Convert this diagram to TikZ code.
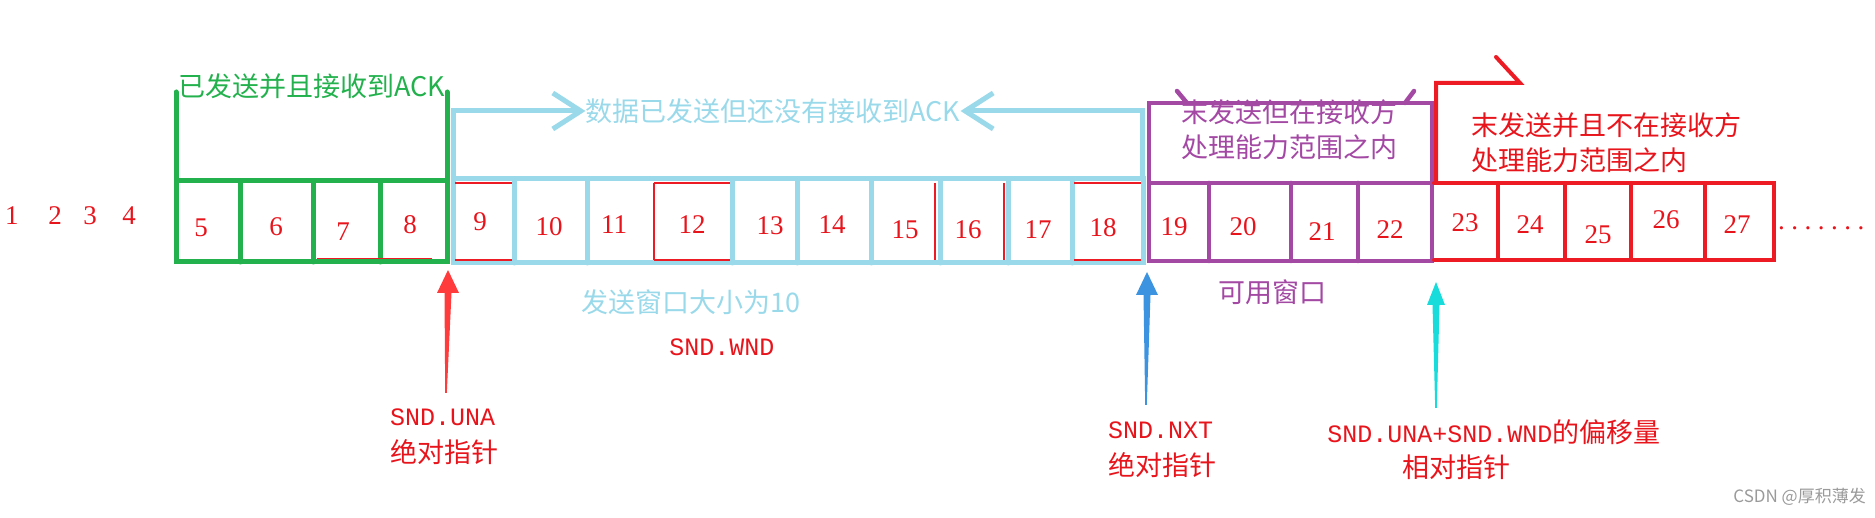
\documentclass[tikz,border=0pt]{standalone}
\usepackage{fontspec}
\setmainfont{Liberation Serif}
\setmonofont{Liberation Mono}
\newfontfamily\cjk{Noto Sans CJK SC}
\usetikzlibrary{arrows.meta,calc}
\definecolor{pgreen}{HTML}{22B14C}
\definecolor{pblue}{HTML}{99D9EA}
\definecolor{ppurple}{HTML}{A349A4}
\definecolor{pred}{HTML}{ED1C24}
\definecolor{tred}{HTML}{E8141C}
\definecolor{arrred}{HTML}{FF3B3B}
\definecolor{arrblue}{HTML}{3C94E0}
\definecolor{arrcyan}{HTML}{18DCDC}
\definecolor{wmgray}{HTML}{9A9A9A}
\newcommand\ptrshape[4]{%
  \fill[#1] ($(#2)+(-0.8,0)$) -- ($(#3)+(-3.5,23)$) -- ($(#3)+(-#4,23)$) -- (#3)
    -- ($(#3)+(#4,23)$) -- ($(#3)+(3.5,23)$) -- ($(#2)+(0.8,0)$) -- cycle;}
\tikzset{
  gline/.style={draw=pgreen, line width=5pt, line cap=round},
  bline/.style={draw=pblue, line width=5pt, line cap=round},
  pline/.style={draw=ppurple, line width=4.5pt, line cap=round},
  rline/.style={draw=pred, line width=4pt, line cap=round},
  thinred/.style={draw=pred, line width=1.1pt},
  num/.style={inner sep=0, text=tred, font=\fontsize{27}{30}\selectfont},
  lab/.style={inner sep=0, font=\cjk\fontsize{27}{32}\selectfont},
  mono/.style={inner sep=0, text=tred, font=\ttfamily\fontsize{25}{30}\selectfont},
  chev/.style={bline, -{Straight Barb[length=28pt,width=36pt]}},
}
\begin{document}
\begin{tikzpicture}[x=1pt,y=-1pt]
\useasboundingbox (0,0) rectangle (1875,518);
% ---------- green group ----------
\draw[gline] (176,181) rectangle (447,262);
\foreach \x in {240,313,380} \draw[gline] (\x,181) -- (\x,262);
\draw[gline] (176,181) -- (176,92);
\draw[gline] (447,181) -- (447,92);
% ---------- blue group ----------
\draw[bline] (453,179) rectangle (1143,263);
\foreach \x in {514,587,732,797,871,940,1008,1072} \draw[bline] (\x,179) -- (\x,263);
% ---------- purple group ----------
\draw[pline] (1149,183) rectangle (1432,261);
\foreach \x in {1209,1291,1358} \draw[pline] (\x,183) -- (\x,261);
\draw[pline] (1149,183) -- (1149,103) -- (1432,103) -- (1432,183);
\draw[pline] (1177,91) -- (1187,103);
\draw[pline] (1414,91) -- (1405,103);
% ---------- red group ----------
\draw[rline] (1434,183) -- (1774,183) -- (1774,260) -- (1434,260);
\foreach \x in {1498,1565,1631,1705} \draw[rline] (\x,183) -- (\x,260);
\draw[rline] (1436,183) -- (1436,83) -- (1520,83) -- (1496,57);
% ---------- thin red traces ----------
\draw[thinred] (455,183) -- (512,183) (455,260) -- (512,260)
  (654,183) -- (730,183) (654,260) -- (730,260)
  (1074,183) -- (1141,183) (1074,260) -- (1141,260)
  (317,258.5) -- (432,258.5)
  (654,183) -- (654,260) (935,183) -- (935,260) (1004,183) -- (1004,260);
% ---------- numbers ----------
\node[num] (n1) at (12,216) {1};
\node[num] (n2) at (55,216) {2};
\node[num] (n3) at (90,216) {3};
\node[num] (n4) at (129,216) {4};
\node[num] (n5) at (201,228) {5};
\node[num] (n6) at (276,227) {6};
\node[num] (n7) at (343,232) {7};
\node[num] (n8) at (410,225) {8};
\node[num] (n9) at (480,222) {9};
\node[num] (n10) at (549,227) {10};
\node[num] (n11) at (614,225) {11};
\node[num] (n12) at (692,225) {12};
\node[num] (n13) at (770,226) {13};
\node[num] (n14) at (832,225) {14};
\node[num] (n15) at (905,230) {15};
\node[num] (n16) at (968,230) {16};
\node[num] (n17) at (1038,230) {17};
\node[num] (n18) at (1103,228) {18};
\node[num] (n19) at (1174,227) {19};
\node[num] (n20) at (1243,227) {20};
\node[num] (n21) at (1322,232) {21};
\node[num] (n22) at (1390,230) {22};
\node[num] (n23) at (1465,223) {23};
\node[num] (n24) at (1530,225) {24};
\node[num] (n25) at (1598,235) {25};
\node[num] (n26) at (1666,220) {26};
\node[num] (n27) at (1737,225) {27};
\node[num, anchor=west] (dots) at (1778,228) {.\kern6.5pt.\kern6.5pt.\kern6.5pt.\kern6.5pt.\kern6.5pt.\kern6.5pt.};
% ---------- group labels ----------
\node[lab, text=pgreen] (gtxt) at (312,86) {已发送并且接收到ACK};
\node[lab, text=pblue] (btxt) at (773,111) {数据已发送但还没有接收到ACK};
\coordinate (bL) at (453,179);
\coordinate (bR) at (1142,179);
\draw[chev] (bL) |- (btxt.west);
\draw[chev] (bR) |- (btxt.east);
\node[lab, text=ppurple, anchor=west] (pt1) at (1181,112) {末发送但在接收方};
\node[lab, text=ppurple, anchor=west] (pt2) at (1181,147) {处理能力范围之内};
\node[lab, text=tred, anchor=west] (rt1) at (1471,125) {末发送并且不在接收方};
\node[lab, text=tred, anchor=west] (rt2) at (1471,160) {处理能力范围之内};
% ---------- lower labels ----------
\node[lab, text=pblue] (wsize) at (691,302) {发送窗口大小为10};
\node[mono] (sndwnd) at (722,347) {SND.WND};
\node[lab, text=ppurple] (avail) at (1272,292) {可用窗口};
\node[mono, anchor=west] (una) at (390,417) {SND.UNA};
\node[lab, text=tred, anchor=west] (una2) at (390,452) {绝对指针};
\node[mono, anchor=west] (nxt) at (1108,430) {SND.NXT};
\node[lab, text=tred, anchor=west] (nxt2) at (1108,465) {绝对指针};
\node[inner sep=0, text=tred] (off) at (1494,432) {{\ttfamily\fontsize{25}{30}\selectfont SND.UNA+SND.WND}{\cjk\fontsize{27}{30}\selectfont 的偏移量}};
\node[lab, text=tred] (off2) at (1456,467) {相对指针};
% ---------- pointer arrows ----------
\coordinate (unaTip) at (448,270);
\coordinate (unaTail) at (446,393);
\ptrshape{arrred}{unaTail}{unaTip}{11}
\coordinate (nxtTip) at (1147,272);
\coordinate (nxtTail) at (1146,405);
\ptrshape{arrblue}{nxtTail}{nxtTip}{11}
\coordinate (offTip) at (1436,282);
\coordinate (offTail) at (1436,408);
\ptrshape{arrcyan}{offTail}{offTip}{9}
% ---------- watermark ----------
\node[inner sep=0, anchor=east, text=wmgray, font=\cjk\fontsize{17}{20}\selectfont] (wm) at (1866,497) {CSDN @厚积薄发};
\end{tikzpicture}
\end{document}
